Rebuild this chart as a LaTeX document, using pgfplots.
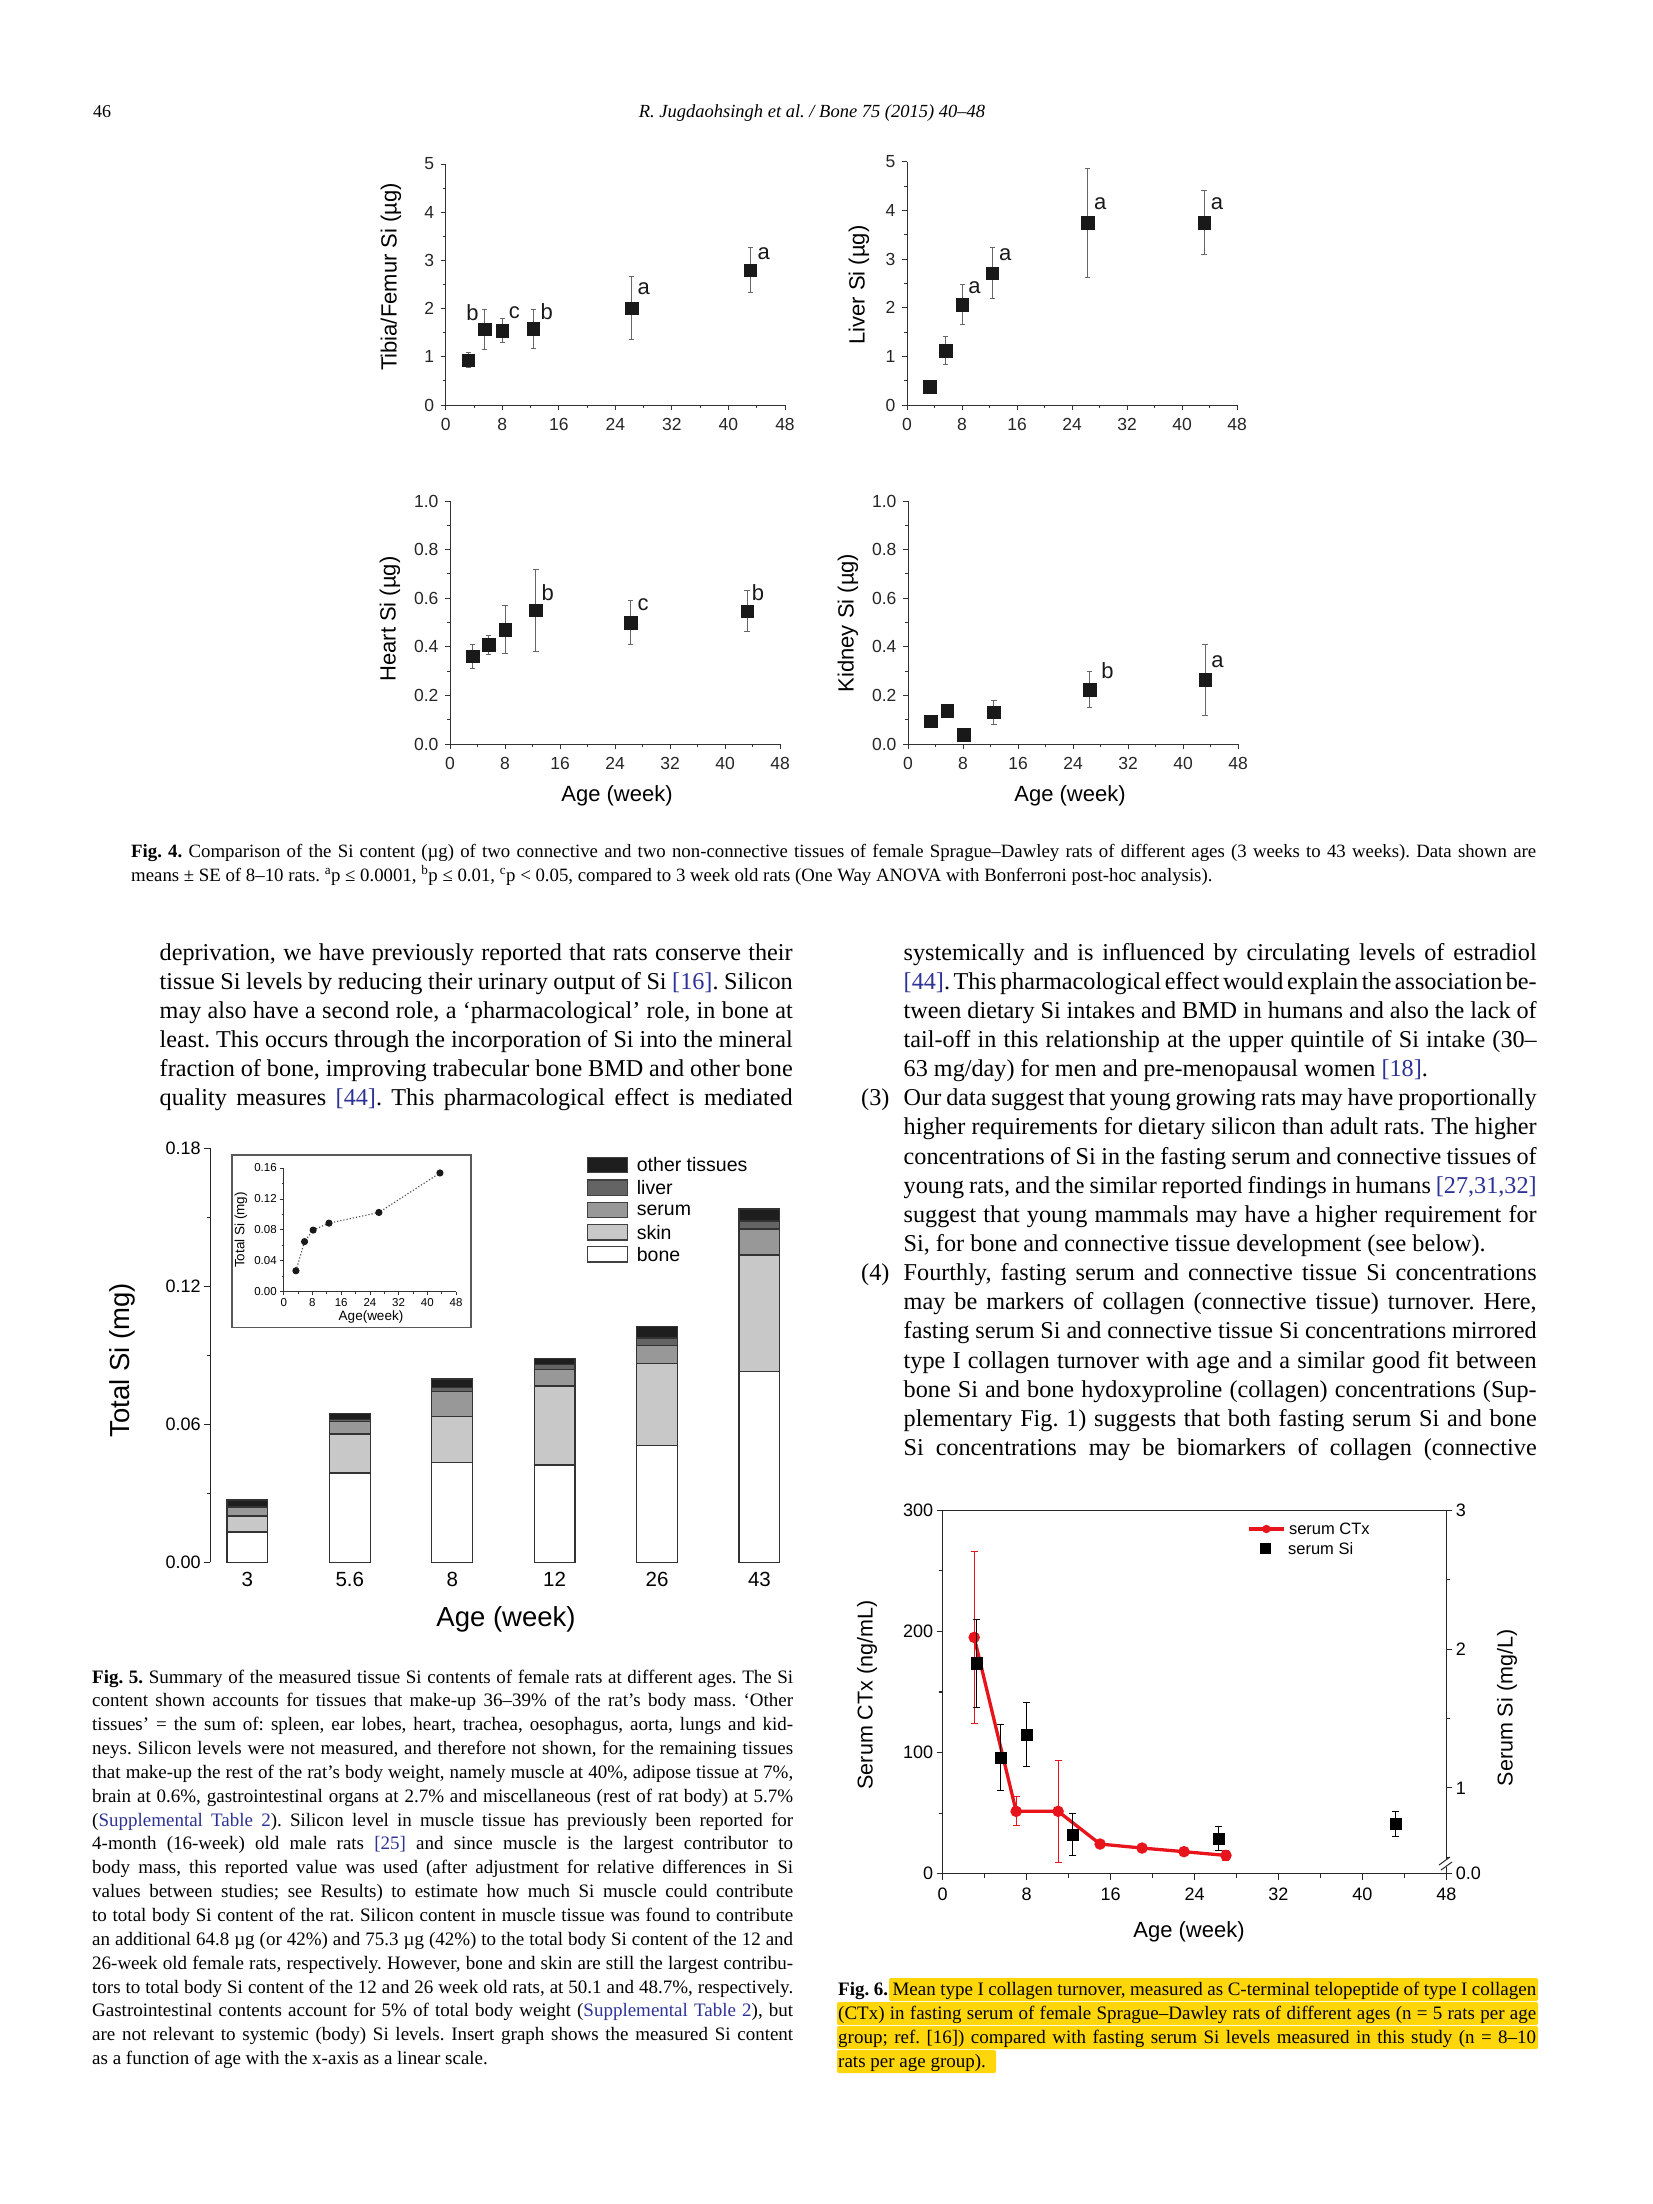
\documentclass[border=0pt]{standalone}
\usepackage{fontspec}
\setmainfont{Liberation Serif}
\setsansfont{Liberation Sans}
\usepackage{pgfplots}
\pgfplotsset{compat=1.18}
\frenchspacing

\definecolor{refblue}{RGB}{45,50,150}
\definecolor{hilite}{RGB}{255,214,10}
\definecolor{ctxred}{RGB}{232,20,28}
\definecolor{cbone}{RGB}{255,255,255}
\definecolor{cskin}{RGB}{200,200,200}
\definecolor{cserum}{RGB}{152,152,152}
\definecolor{cliver}{RGB}{100,100,100}
\definecolor{cother}{RGB}{30,30,30}

\newcommand\rf[1]{\textcolor{refblue}{#1}}
% one justified line / one free line, baseline at (x,y) in pixels
\newcommand\J[4]{\node[anchor=base west,inner sep=0pt] at (#1,#2) {\hbox to #3pt{#4}};}
\newcommand\Lt[3]{\node[anchor=base west,inner sep=0pt] at (#1,#2) {#3};}
\newcommand\sz[1]{\fontsize{#1}{#1}\selectfont}
\newcommand\txt[1]{\rmfamily\sz{#1}\spaceskip=.25em plus .4em minus .11em\relax}

\pgfplotsset{
  panel/.style={
    scale only axis, anchor=south west,
    axis lines=left, axis line style={-, line width=1pt, black!80},
    xmin=0, xmax=48, xtick={0,8,...,48}, minor x tick num=1,
    tick align=outside, major tick length=5pt, minor tick length=3pt,
    tick style={black!80, line width=0.9pt},
    /pgf/number format/assume math mode=true,
    tick label style={font=\sffamily\sz{17.5}, black!85},
    xticklabel shift=5pt, yticklabel shift=3pt,
    clip=false,
  },
  si/.style={only marks, mark=square*, mark size=6.3pt, black!90,
    error bars/.cd, y dir=both, y explicit,
    error bar style={line width=0.9pt, black!60},
    error mark options={rotate=90, mark size=2.6pt, line width=0.9pt, black!60}},
}
\tikzset{lett/.style={font=\sffamily\sz{22}, black!90}}

\begin{document}
\begin{tikzpicture}
\useasboundingbox (0,0) rectangle (1653pt,-2204pt);
\fill[white] (0,0) rectangle (1653pt,-2204pt);

% ---------------- Fig. 4 ----------------
\begin{axis}[panel, at={(445.7pt,-405pt)}, width=339.3pt, height=241pt,
  ymin=0, ymax=5, ytick={0,1,...,5}, minor y tick num=1]
\addplot[si] table[x=x,y=y,y error=e] {
x y e
3.2 0.93 0.16
5.5 1.57 0.41
8.0 1.54 0.25
12.4 1.58 0.40
26.3 2.01 0.66
43.1 2.80 0.46
};
\node[lett] at (axis cs:3.8,1.91) {b};
\node[lett] at (axis cs:9.7,1.91) {c};
\node[lett] at (axis cs:14.3,1.94) {b};
\node[lett] at (axis cs:28.0,2.41) {a};
\node[lett] at (axis cs:45.0,3.13) {a};
\end{axis}

\begin{axis}[panel, at={(907pt,-405pt)}, width=330pt, height=243.3pt,
  ymin=0, ymax=5, ytick={0,1,...,5}, minor y tick num=1]
\addplot[si] table[x=x,y=y,y error=e] {
x y e
3.3 0.38 0
5.6 1.12 0.28
8.05 2.06 0.41
12.4 2.71 0.53
26.3 3.75 1.12
43.2 3.75 0.66
};
\node[lett] at (axis cs:9.8,2.42) {a};
\node[lett] at (axis cs:14.3,3.08) {a};
\node[lett] at (axis cs:28.1,4.13) {a};
\node[lett] at (axis cs:45.1,4.13) {a};
\end{axis}

\begin{axis}[panel, at={(450pt,-744pt)}, width=330pt, height=243pt,
  ymin=0, ymax=1, ytick={0,0.2,0.4,0.6,0.8,1}, minor y tick num=1,
  yticklabel style={/pgf/number format/.cd, fixed, fixed zerofill, precision=1}]
\addplot[si] table[x=x,y=y,y error=e] {
x y e
3.3 0.361 0.05
5.6 0.408 0.04
8.0 0.471 0.10
12.5 0.550 0.17
26.3 0.500 0.09
43.2 0.547 0.084
};
\node[lett] at (axis cs:14.2,0.621) {b};
\node[lett] at (axis cs:28.1,0.572) {c};
\node[lett] at (axis cs:44.8,0.624) {b};
\end{axis}

\begin{axis}[panel, at={(908pt,-744pt)}, width=330pt, height=243pt,
  ymin=0, ymax=1, ytick={0,0.2,0.4,0.6,0.8,1}, minor y tick num=1,
  yticklabel style={/pgf/number format/.cd, fixed, fixed zerofill, precision=1}]
\addplot[si] table[x=x,y=y,y error=e] {
x y e
3.3 0.094 0
5.7 0.138 0.02
8.1 0.038 0
12.5 0.131 0.05
26.4 0.224 0.074
43.2 0.264 0.146
};
\node[lett] at (axis cs:29.0,0.302) {b};
\node[lett] at (axis cs:45.0,0.339) {a};
\end{axis}

% ---------------- Fig. 5 ----------------
\begin{axis}[scale only axis, anchor=south west, at={(210.2pt,-1562.3pt)},
  width=590.2pt, height=414pt,
  ybar stacked, bar width=40.8pt,
  xmin=-0.363, xmax=5.4, ymin=0, ymax=0.18,
  axis lines=left, axis line style={-, line width=1.4pt, black!85},
  x axis line style={draw=none}, xtick style={draw=none},
  xtick={0,...,5}, xticklabels={3,5.6,8,12,26,43},
  ytick={0,0.06,0.12,0.18}, minor y tick num=1,
  tick align=outside, major tick length=6pt, minor tick length=3.5pt,
  ytick style={black!85, line width=1.2pt},
  /pgf/number format/assume math mode=true,
  yticklabel style={font=\sffamily\sz{18}, /pgf/number format/.cd, fixed, fixed zerofill, precision=2},
  xticklabel style={font=\sffamily\sz{20.5}},
  every axis plot/.append style={draw=black!80, line width=1.3pt},
]
\addplot[fill=cbone] coordinates {(0,0.0132) (1,0.0388) (2,0.0433) (3,0.0423) (4,0.0507) (5,0.0830)};
\addplot[fill=cskin] coordinates {(0,0.0069) (1,0.0170) (2,0.0202) (3,0.0344) (4,0.0358) (5,0.0506)};
\addplot[fill=cserum] coordinates {(0,0.0037) (1,0.0054) (2,0.0108) (3,0.0071) (4,0.0077) (5,0.0113)};
\addplot[fill=cliver] coordinates {(0,0.0004) (1,0.0008) (2,0.0018) (3,0.0023) (4,0.0033) (5,0.0035)};
\addplot[fill=cother] coordinates {(0,0.0029) (1,0.0028) (2,0.0036) (3,0.0026) (4,0.0050) (5,0.0052)};
\end{axis}

% inset
\fill[white, draw=black!65, line width=1.3pt] (231.9pt,-1155pt) rectangle (471pt,-1327.3pt);
\begin{axis}[scale only axis, anchor=south west, at={(283.7pt,-1291.7pt)},
  width=172.4pt, height=123.7pt,
  xmin=0, xmax=48, ymin=0, ymax=0.16,
  axis lines=left, axis line style={-, line width=0.9pt, black!80},
  xtick={0,8,...,48}, ytick={0,0.04,...,0.16}, minor tick num=1,
  tick align=outside, major tick length=3.5pt, minor tick length=2pt,
  tick style={black!80, line width=0.8pt},
  /pgf/number format/assume math mode=true,
  tick label style={font=\sffamily\sz{11.5}},
  yticklabel style={/pgf/number format/.cd, fixed, fixed zerofill, precision=2},
]
\addplot[line width=1.1pt, black!70, dash pattern=on 1.2pt off 2pt, mark=*, mark size=3pt,
  mark options={solid, fill=black!90, draw=black!90}] coordinates {
(3.4,0.0271) (5.8,0.0648) (8.2,0.0797) (12.6,0.0887) (26.5,0.1025) (43.5,0.1536)};
\end{axis}

% ---------------- Fig. 6 ----------------
\begin{axis}[scale only axis, anchor=south west, at={(942.7pt,-1873.7pt)},
  width=503.6pt, height=363.4pt,
  xmin=0, xmax=48, ymin=0, ymax=300,
  axis line style={line width=1.3pt, black!85},
  xtick={0,8,...,48}, ytick={0,100,200,300}, minor tick num=1,
  xtick pos=left, ytick pos=left,
  tick align=outside, major tick length=6pt, minor tick length=4pt,
  tick style={black!85, line width=1.1pt},
  /pgf/number format/assume math mode=true,
  tick label style={font=\sffamily\sz{18}},
  xticklabel shift=5pt,
  clip=false,
]
\addplot[ctxred, line width=3.3pt, mark=*, mark size=4pt,
  error bars/.cd, y dir=both, y explicit,
  error bar style={line width=0.9pt, ctxred},
  error mark options={rotate=90, mark size=3.5pt, line width=0.9pt, ctxred}]
  table[x=x,y=y,y error=e] {
x y e
3 195.1 71
7 51.5 12
11 51.5 42
15 24.5 0
19 21.2 0
23 18.2 3
27 15.1 4
};
\end{axis}
\begin{axis}[scale only axis, anchor=south west, at={(942.7pt,-1873.7pt)},
  width=503.6pt, height=363.4pt,
  xmin=0, xmax=48, ymin=0.382, ymax=3,
  axis x line=none, axis y line=right, axis line style={-, line width=1.3pt, black!85},
  ytick={1,2,3}, minor ytick={0.5,1.5,2.5},
  extra y ticks={0.382}, extra y tick labels={0.0},
  tick align=outside, major tick length=6pt, minor tick length=4pt,
  tick style={black!85, line width=1.1pt},
  /pgf/number format/assume math mode=true,
  tick label style={font=\sffamily\sz{18}},
  clip=false,
]
\addplot[only marks, mark=square*, mark size=5.6pt, black,
  error bars/.cd, y dir=both, y explicit,
  error bar style={line width=1pt, black},
  error mark options={rotate=90, mark size=3.5pt, line width=1pt, black}]
  table[x=x,y=y,y error=e] {
x y e
3.24 1.898 0.315
5.54 1.220 0.24
8.0 1.384 0.23
12.4 0.665 0.152
26.3 0.634 0.087
43.2 0.740 0.087
};
\end{axis}

% ---------------- labels, legends and page text (pixel coordinates) ----------------
\begin{scope}[x=1pt,y=-1pt]
% Fig. 4 axis titles
\node[rotate=90, font=\sffamily\sz{22}] at (391,277) {Tibia/Femur Si (µg)};
\node[rotate=90, font=\sffamily\sz{22}] at (859,285) {Liver Si (µg)};
\node[rotate=90, font=\sffamily\sz{22}] at (390,619) {Heart Si (µg)};
\node[rotate=90, font=\sffamily\sz{22}] at (848,623) {Kidney Si (µg)};
\node[font=\sffamily\sz{22}] at (617,796) {Age (week)};
\node[font=\sffamily\sz{22}] at (1070,796) {Age (week)};

% Fig. 5 titles and legend
\node[rotate=90, font=\sffamily\sz{27.5}] at (122,1360) {Total Si (mg)};
\node[font=\sffamily\sz{27.5}] at (506,1619) {Age (week)};
\node[rotate=90, font=\sffamily\sz{13.5}] at (241,1230) {Total Si (mg)};
\node[font=\sffamily\sz{13.5}] at (371,1317) {Age(week)};
\foreach \yy/\cc/\tt in {1157.3/cother/other tissues, 1180/cliver/liver, 1202.3/cserum/serum, 1224.7/cskin/skin, 1246.7/cbone/bone}{
  \filldraw[fill=\cc, draw=black!75, line width=1.2pt] (587.7,\yy) rectangle (627.6,\yy+15.3);
  \node[anchor=west, inner sep=0pt, font=\sffamily\sz{19.5}] at (636.7,\yy+7.6) {\tt};
}

% Fig. 6 titles and legend
\node[rotate=90, font=\sffamily\sz{21.5}] at (867,1695) {Serum CTx (ng/mL)};
\node[rotate=90, font=\sffamily\sz{21.5}] at (1507,1708) {Serum Si (mg/L)};
\node[font=\sffamily\sz{22}] at (1189,1932) {Age (week)};
\draw[ctxred, line width=3.3pt] (1248.5,1529) -- (1284.3,1529);
\fill[ctxred] (1266.4,1529) circle (4.2);
\node[anchor=west, inner sep=0pt, font=\sffamily\sz{16.5}] at (1288.8,1529) {serum CTx};
\fill[black] (1259.8,1543) rectangle (1270.8,1553.6);
\node[anchor=west, inner sep=0pt, font=\sffamily\sz{16.5}] at (1287.9,1548.3) {serum Si};
% axis break on the right axis
\fill[white] (1440,1859) rectangle (1453,1867);
\draw[black!85, line width=1pt] (1439,1865) -- (1450,1857);
\draw[black!85, line width=1pt] (1441,1870) -- (1452,1862);

% running head
\node[anchor=base west, inner sep=0pt, font=\rmfamily\sz{18}] at (93,117) {46};
\node[anchor=base, inner sep=0pt, font=\itshape\sz{18.5}] at (812,117) {R. Jugdaohsingh et al. / Bone 75 (2015) 40–48};

% Fig. 4 caption
\begin{scope}[font=\txt{18.8}]
\J{131}{857}{1405}{\textbf{Fig. 4.} Comparison of the Si content (µg) of two connective and two non-connective tissues of female Sprague–Dawley rats of different ages (3 weeks to 43 weeks). Data shown are}
\Lt{131}{881}{means ± SE of 8–10 rats. \textsuperscript{a}p ≤ 0.0001, \textsuperscript{b}p ≤ 0.01, \textsuperscript{c}p < 0.05, compared to 3 week old rats (One Way ANOVA with Bonferroni post-hoc analysis).}
\end{scope}

% body text, left column
\begin{scope}[font=\txt{24.2}]
\J{159.5}{960}{633}{deprivation, we have previously reported that rats conserve their}
\J{159.5}{989.15}{633}{tissue Si levels by reducing their urinary output of Si \rf{[16]}. Silicon}
\J{159.5}{1018.3}{633}{may also have a second role, a ‘pharmacological’ role, in bone at}
\J{159.5}{1047.45}{633}{least. This occurs through the incorporation of Si into the mineral}
\J{159.5}{1076.6}{633}{fraction of bone, improving trabecular bone BMD and other bone}
\J{159.5}{1105.75}{633}{quality measures \rf{[44]}. This pharmacological effect is mediated}

% body text, right column
\J{903.5}{960}{633}{systemically and is influenced by circulating levels of estradiol}
\J{903.5}{989.15}{633}{\rf{[44]}. This pharmacological effect would explain the association be-}
\J{903.5}{1018.3}{633}{tween dietary Si intakes and BMD in humans and also the lack of}
\J{903.5}{1047.45}{633}{tail-off in this relationship at the upper quintile of Si intake (30–}
\Lt{903.5}{1076.6}{63 mg/day) for men and pre-menopausal women \rf{[18]}.}
\Lt{861}{1105.75}{(3)}
\J{903.5}{1105.75}{633}{Our data suggest that young growing rats may have proportionally}
\J{903.5}{1134.9}{633}{higher requirements for dietary silicon than adult rats. The higher}
\J{903.5}{1164.05}{633}{concentrations of Si in the fasting serum and connective tissues of}
\J{903.5}{1193.2}{633}{young rats, and the similar reported findings in humans \rf{[27,31,32]}}
\J{903.5}{1222.35}{633}{suggest that young mammals may have a higher requirement for}
\Lt{903.5}{1251.5}{Si, for bone and connective tissue development (see below).}
\Lt{861}{1280.65}{(4)}
\J{903.5}{1280.65}{633}{Fourthly, fasting serum and connective tissue Si concentrations}
\J{903.5}{1309.8}{633}{may be markers of collagen (connective tissue) turnover. Here,}
\J{903.5}{1338.95}{633}{fasting serum Si and connective tissue Si concentrations mirrored}
\J{903.5}{1368.1}{633}{type I collagen turnover with age and a similar good fit between}
\J{903.5}{1397.25}{633}{bone Si and bone hydoxyproline (collagen) concentrations (Sup-}
\J{903.5}{1426.4}{633}{plementary Fig. 1) suggests that both fasting serum Si and bone}
\J{903.5}{1455.55}{633}{Si concentrations may be biomarkers of collagen (connective}
\end{scope}

% Fig. 5 caption
\begin{scope}[font=\txt{19}]
\J{92}{1683}{701}{\textbf{Fig. 5.} Summary of the measured tissue Si contents of female rats at different ages. The Si}
\J{92}{1706.85}{701}{content shown accounts for tissues that make-up 36–39\% of the rat's body mass. ‘Other}
\J{92}{1730.7}{701}{tissues’ = the sum of: spleen, ear lobes, heart, trachea, oesophagus, aorta, lungs and kid-}
\J{92}{1754.55}{701}{neys. Silicon levels were not measured, and therefore not shown, for the remaining tissues}
\J{92}{1778.4}{701}{that make-up the rest of the rat's body weight, namely muscle at 40\%, adipose tissue at 7\%,}
\J{92}{1802.25}{701}{brain at 0.6\%, gastrointestinal organs at 2.7\% and miscellaneous (rest of rat body) at 5.7\%}
\J{92}{1826.1}{701}{(\rf{Supplemental Table 2}). Silicon level in muscle tissue has previously been reported for}
\J{92}{1849.95}{701}{4-month (16-week) old male rats \rf{[25]} and since muscle is the largest contributor to}
\J{92}{1873.8}{701}{body mass, this reported value was used (after adjustment for relative differences in Si}
\J{92}{1897.65}{701}{values between studies; see Results) to estimate how much Si muscle could contribute}
\J{92}{1921.5}{701}{to total body Si content of the rat. Silicon content in muscle tissue was found to contribute}
\J{92}{1945.35}{701}{an additional 64.8 µg (or 42\%) and 75.3 µg (42\%) to the total body Si content of the 12 and}
\J{92}{1969.2}{701}{26-week old female rats, respectively. However, bone and skin are still the largest contribu-}
\J{92}{1993.05}{701}{tors to total body Si content of the 12 and 26 week old rats, at 50.1 and 48.7\%, respectively.}
\J{92}{2016.9}{701}{Gastrointestinal contents account for 5\% of total body weight (\rf{Supplemental Table 2}), but}
\J{92}{2040.75}{701}{are not relevant to systemic (body) Si levels. Insert graph shows the measured Si content}
\Lt{92}{2064.6}{as a function of age with the x-axis as a linear scale.}

% Fig. 6 caption with highlight
\fill[hilite, rounded corners=2pt] (889,1978) rectangle (1538,2001);
\fill[hilite, rounded corners=2pt] (837,2002) rectangle (1538,2025);
\fill[hilite, rounded corners=2pt] (837,2026) rectangle (1538,2049);
\fill[hilite, rounded corners=2pt] (837,2050) rectangle (996,2073);
\J{838}{1995}{698}{\textbf{Fig. 6.} Mean type I collagen turnover, measured as C-terminal telopeptide of type I collagen}
\J{838}{2019}{698}{(CTx) in fasting serum of female Sprague–Dawley rats of different ages (n = 5 rats per age}
\J{838}{2043}{698}{group; ref. [16]) compared with fasting serum Si levels measured in this study (n = 8–10}
\Lt{838}{2067}{rats per age group).}
\end{scope}
\end{scope}
\end{tikzpicture}
\end{document}
